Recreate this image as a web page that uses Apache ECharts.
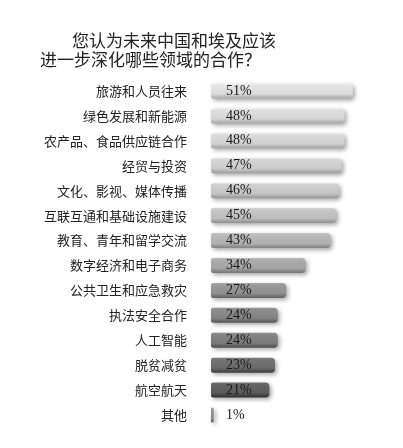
<!DOCTYPE html>
<html><head><meta charset="utf-8">
<script src="https://cdn.jsdelivr.net/npm/echarts@6/dist/echarts.min.js"></script>
<style>html,body{margin:0;padding:0;background:#fff}#c{width:403px;height:448px}</style>
</head><body><div id="c"></div>
<script>
const titleLine1 = '您认为未来中国和埃及应该';
const titleLine2 = '进一步深化哪些领域的合作？';
const categories = ['旅游和人员往来','绿色发展和新能源','农产品、食品供应链合作','经贸与投资','文化、影视、媒体传播','互联互通和基础设施建设','教育、青年和留学交流','数字经济和电子商务','公共卫生和应急救灾','执法安全合作','人工智能','脱贫减贫','航空航天','其他'];
const values = [51,48,48,47,46,45,43,34,27,24,24,23,21,1];
const shades = ['#dadada','#d4d4d4','#d0d0d0','#cacaca','#c4c4c4','#bcbcbc','#b0b0b0','#a2a2a2','#909090','#828282','#7a7a7a','#6a6a6a','#5a5a5a','#8a8a8a'];

function adj(hex, d){
  const n = parseInt(hex.slice(1),16);
  const f = v => Math.max(0,Math.min(255,v+d));
  const r=f(n>>16), g=f((n>>8)&255), b=f(n&255);
  return 'rgb('+r+','+g+','+b+')';
}
const chart = echarts.init(document.getElementById('c'));
chart.setOption({
  backgroundColor:'#fff',
  animation:false,
  graphic:[
    {type:'text', left:72, top:32, style:{text:titleLine1, font:'17px "Noto Sans CJK SC"', fill:'#222'}},
    {type:'text', left:40, top:51, style:{text:titleLine2, font:'17px "Noto Sans CJK SC"', fill:'#222'}}
  ],
  grid:{left:211, top:78.5, width:167, bottom:20.5, containLabel:false},
  xAxis:{type:'value', min:0, max:60, show:false},
  yAxis:{type:'category', inverse:true, data:categories,
    axisLine:{show:false}, axisTick:{show:false},
    axisLabel:{margin:24, fontSize:13, color:'#222', fontFamily:'"Noto Sans CJK SC"'}},
  series:[{
    type:'bar', barWidth:15,
    data: values.map((v,i)=>({value:v, itemStyle:{
      color:{type:'linear',x:0,y:0,x2:0,y2:1,colorStops:[
        {offset:0,color:adj(shades[i],22)},
        {offset:0.15,color:adj(shades[i],10)},
        {offset:0.7,color:shades[i]},
        {offset:0.85,color:adj(shades[i],-25)},
        {offset:1,color:adj(shades[i],-45)}]},
      borderRadius:[2,4,4,2],
      shadowColor:'rgba(0,0,0,0.35)', shadowBlur:4, shadowOffsetX:2, shadowOffsetY:2
    }})),
    label:{show:true, position:'insideLeft', distance:15, formatter:'{c}%',
      fontFamily:'"Liberation Serif"', fontSize:14, color:'#1a1a1a',
      textShadowColor:'rgba(255,255,255,0.9)', textShadowOffsetX:1, textShadowOffsetY:1, textShadowBlur:0}
  }]
});
</script></body></html>
